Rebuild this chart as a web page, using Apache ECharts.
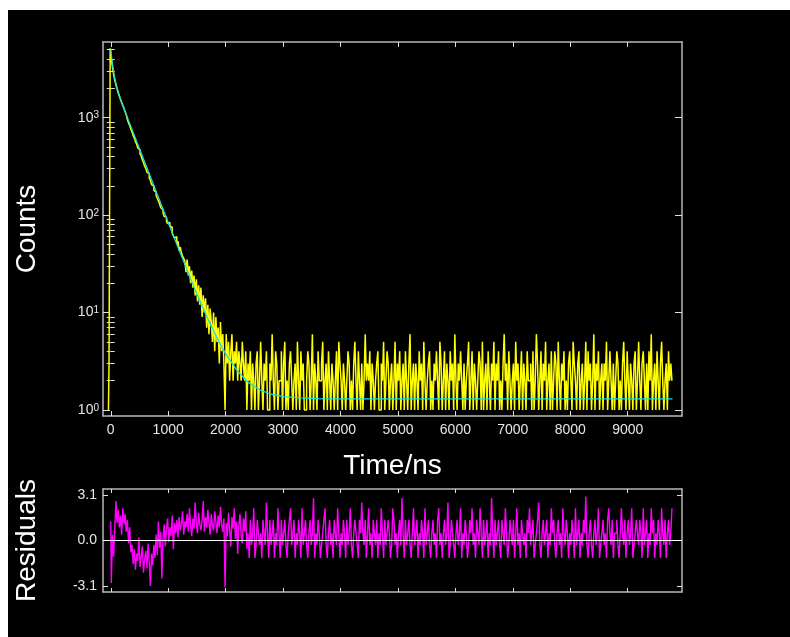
<!DOCTYPE html>
<html><head><meta charset="utf-8">
<script src="https://cdn.jsdelivr.net/npm/echarts@6/dist/echarts.min.js"></script>
<style>
html,body{margin:0;padding:0;background:#fff;}
#bg{position:absolute;left:8px;top:10px;width:782px;height:627px;background:#000;}
#c{position:absolute;left:0;top:0;width:790px;height:637px;}
</style></head><body><div id="bg"></div><div id="c"></div>
<script>
// ---- data ----
const countStart = -40, countStep = 20;   // ns, channel width
const counts = [1,3,5150,3990,3290,2790,2420,2170,1975,1790,1660,1540,1420,1340,1240,1150,1070,
955,885,830,760,716,655,620,568,538,490,468,425,405,368,348,318,302,276,265,240,228,206,199,179,172,158,
149,140,131,119,114,106,97,95,86,82,84,77,75,65,66,58,60,50,54,43,47,41,38,36,
34,26,35,24,30,20,27,18,24,15,22,13,19,12,18,
9,15,10,14,7,12,6,11,8,5,10,4,9,5,7,3,8,4,6,3,
1,6,3,5,2,4,6,2,4,3,5,2,4,3,2,5,3,2,4,1,
3,2,4,1,3,
2,1,3,4,1,2,5,2,1,3,2,4,1,1,3,2,6,2,1,4,
3,1,2,2,4,1,3,5,1,2,1,3,4,2,1,2,3,1,5,2,
1,4,2,3,1,1,2,4,3,1,2,6,1,3,2,1,4,2,2,3,
5,1,2,3,1,4,2,1,3,2,1,2,4,1,5,3,2,1,3,2,
1,2,4,3,1,2,1,3,5,2,1,4,2,1,3,1,2,6,2,3,
2,4,1,3,2,1,2,3,4,1,1,3,2,5,1,2,4,3,1,2,
3,1,2,5,1,3,2,4,1,2,3,1,4,2,1,3,6,1,2,3,
1,3,2,1,4,2,3,1,5,2,1,2,3,4,1,2,1,3,2,4,
2,1,5,3,1,2,4,1,3,2,1,4,2,3,1,6,2,1,3,2,
4,2,1,3,1,2,3,5,1,2,4,1,3,2,1,2,4,3,1,5,
1,2,3,1,4,2,1,3,2,5,1,3,2,4,1,2,1,3,6,2,
3,1,4,2,1,2,3,1,5,2,3,1,2,4,1,3,2,1,4,2,
2,3,1,4,1,2,6,3,1,2,4,1,3,2,5,1,2,3,1,4,
1,2,4,3,1,5,2,1,3,2,4,1,2,1,3,4,2,1,5,3,
2,1,3,4,1,2,3,1,2,5,1,4,2,3,1,2,6,1,3,2,
4,1,2,3,1,3,2,5,1,2,4,2,1,3,1,2,4,3,1,2,
1,3,5,2,1,4,2,1,3,2,1,3,4,1,2,5,2,1,3,4,
2,1,3,1,4,2,6,1,2,3,1,4,2,1,3,5,2,1,2,3,
1,4,2,3,2];

const fitTimes = [0,20,40,60,80,100,150,200,250,300,400,500,600,700,800,900,1000,1100,1200,1300,1400,1500,1600,1700,1800,1900,2000,2200,2400,2600,2800,3000,3300,3600,4000,9780];
const fitCounts = [5031,3935,3216,2727,2380,2122,1683,1385,1155,967,681,479,338,238.5,168.3,118.9,84.1,59.6,42.4,30.2,21.6,15.6,11.4,8.4,6.3,4.82,3.78,2.53,1.91,1.60,1.45,1.37,1.33,1.31,1.30,1.30];

const resStart = 0, resStep = 20;
const residuals = [
1.3,-2.9,0.4,-1.1,0.8,2.7,1.2,2.1,0.9,1.7,0.4,2.2,1.1,1.8,0.6,1.4,-0.2,0.9,-0.8,-0.3,
-1.6,-0.6,-2.0,-0.9,-1.4,0.2,-1.8,-1.1,-0.4,-2.2,-1.3,-0.7,-1.9,-0.2,-1.5,-3.1,-0.9,-1.7,-0.3,-1.2,
0.4,-1.0,1.3,-0.5,0.6,-2.6,0.2,1.1,-0.4,0.8,1.5,-0.1,0.9,0.3,1.7,-0.6,1.2,0.5,1.4,0.2,
1.6,0.7,1.1,2.0,0.4,1.3,0.9,1.8,0.6,2.2,1.0,0.3,1.5,0.8,2.6,1.2,0.5,1.9,1.1,0.7,
1.4,2.7,0.6,1.6,0.9,2.1,1.2,0.4,1.8,1.0,0.7,2.0,1.3,0.5,1.7,0.9,2.3,1.1,0.6,1.5,
-3.2,1.2,0.3,1.9,0.7,-0.4,1.6,0.8,2.2,0.1,1.3,-0.9,1.0,1.8,0.4,-0.2,1.5,0.6,2.0,-0.6,
0.5,-1.2,1.4,-0.3,0.5,2.2,-1.2,-0.3,1.4,0.5,-0.3,0.5,-1.2,1.4,0.5,-0.3,2.6,0.5,-1.2,1.4,
-0.3,0.5,1.4,-1.2,0.5,-0.3,2.2,0.5,-1.2,1.4,-0.3,0.5,1.4,-0.3,-1.2,0.5,1.4,2.2,-0.3,0.5,
1.4,-1.2,0.5,-0.3,1.4,0.5,-1.2,2.2,-0.3,0.5,1.4,-0.3,-1.2,0.5,1.4,-0.3,0.5,2.9,-1.2,0.5,
-0.3,1.4,0.5,-1.2,-0.3,0.5,1.4,2.2,-0.3,-1.2,0.5,1.4,-0.3,0.5,-1.2,1.4,0.5,-0.3,2.2,0.5,
-1.2,0.5,-0.3,1.4,0.5,-1.2,1.4,-0.3,0.5,2.2,-0.3,-1.2,0.5,1.4,0.5,-0.3,-1.2,1.4,0.5,2.6,
0.5,-0.3,1.4,-1.2,0.5,2.2,-0.3,0.5,-1.2,1.4,0.5,-0.3,1.4,-1.2,0.5,-0.3,2.2,0.5,-1.2,1.4,
-0.3,0.5,1.4,0.5,-1.2,-0.3,2.2,1.4,-0.3,0.5,-1.2,0.5,1.4,-0.3,2.9,0.5,-1.2,1.4,-0.3,0.5,
1.4,-0.3,-1.2,0.5,2.2,-0.3,0.5,1.4,-1.2,0.5,-0.3,1.4,0.5,-1.2,2.2,-0.3,0.5,1.4,-0.3,-1.2,
0.5,1.4,-0.3,0.5,-1.2,1.4,2.2,-0.3,0.5,-1.2,0.5,1.4,-0.3,0.5,2.6,-1.2,-0.3,1.4,0.5,-0.3,
-1.2,0.5,1.4,-0.3,0.5,2.2,-1.2,0.5,-0.3,1.4,0.5,-1.2,-0.3,1.4,0.5,2.2,-0.3,0.5,-1.2,1.4,
0.5,-0.3,2.2,0.5,-1.2,1.4,-0.3,0.5,1.4,-1.2,0.5,-0.3,2.9,0.5,-1.2,1.4,-0.3,0.5,1.4,-0.3,
-1.2,1.4,0.5,-0.3,2.2,0.5,-1.2,-0.3,1.4,0.5,-0.3,1.4,-1.2,0.5,2.2,-0.3,0.5,-1.2,1.4,0.5,
-0.3,0.5,-1.2,1.4,0.5,2.2,-0.3,0.5,1.4,-1.2,-0.3,0.5,1.4,2.6,-0.3,-1.2,0.5,1.4,-0.3,0.5,
1.4,-1.2,0.5,-0.3,2.2,0.5,1.4,-0.3,-1.2,0.5,1.4,-0.3,0.5,-1.2,2.2,0.5,-0.3,1.4,0.5,-1.2,
0.5,-0.3,1.4,0.5,-1.2,2.2,-0.3,0.5,1.4,-1.2,0.5,-0.3,1.4,0.5,3.0,-0.3,-1.2,0.5,1.4,-0.3,
-1.2,0.5,1.4,-0.3,0.5,2.2,-1.2,-0.3,0.5,1.4,-0.3,0.5,-1.2,1.4,2.2,0.5,-0.3,1.4,-1.2,0.5,
0.5,1.4,-0.3,-1.2,0.5,2.2,0.5,-0.3,1.4,-1.2,0.5,1.4,-0.3,0.5,2.2,-1.2,-0.3,0.5,1.4,0.5,
-0.3,1.4,0.5,-1.2,2.2,-0.3,0.5,1.4,-1.2,0.5,-0.3,2.2,0.5,1.4,-1.2,0.5,-0.3,1.4,0.5,-1.2,
2.2,0.5,-0.3,1.4,-1.2,0.5,1.4,-0.3,0.5,2.2];

const xTicks = [0,1000,2000,3000,4000,5000,6000,7000,8000,9000];
const yMajor = [1,10,100,1000];
const yMinor = [2,3,4,5,6,7,8,9,20,30,40,50,60,70,80,90,200,300,400,500,600,700,800,900,2000,3000,4000,5000];
const resTicks = [-3.1,0,3.1];

// ---- build ----
const L = Math.log10;
const countPts = counts.map((c,i)=>[countStart+i*countStep, L(c)]);
const fitPts = fitTimes.map((t,i)=>[t, L(fitCounts[i])]);
const resPts = residuals.map((r,i)=>[resStart+i*resStep, r]);
const majLog = yMajor.map(L), minLog = yMinor.map(L);

const FONT = 'Liberation Sans, Arial, sans-serif';
const frame = {show:true, onZero:false, lineStyle:{color:'#b8b8b8', width:1.5}};
const XMIN=-135, XMAX=9945, YMIN=-0.062, YMAX=3.777, RMIN=-3.52, RMAX=3.52;

function xAx(grid, pos, labels, tickLen){
  return {type:'value', gridIndex:grid, position:pos, min:XMIN, max:XMAX,
    axisLine:frame, splitLine:{show:false},
    axisTick:{show:true, inside:true, length:tickLen, customValues:xTicks, lineStyle:{color:'#e0e0e0', width:1}},
    axisLabel:{show:labels, customValues:xTicks, color:'#e6e6e6', fontSize:14, fontFamily:FONT, margin:7,
      formatter: v => String(Math.round(v))}};
}
function yAx(grid, pos, min, max, ticks, len, showLine){
  return {type:'value', gridIndex:grid, position:pos, min:min, max:max,
    axisLine:showLine?frame:{show:false}, splitLine:{show:false},
    axisTick:{show:true, inside:true, length:len, customValues:ticks, lineStyle:{color:'#e0e0e0', width:1}},
    axisLabel:{show:false}};
}

const yMainLeft = yAx(0,'left',YMIN,YMAX,majLog,7,true);
yMainLeft.axisLabel = {show:true, customValues:majLog, margin:4, fontFamily:FONT,
  formatter: v => '{b|10}{s|' + Math.round(v) + '}',
  rich:{b:{fontSize:14, color:'#e6e6e6', fontFamily:FONT, verticalAlign:'bottom', lineHeight:14},
        s:{fontSize:10, color:'#e6e6e6', fontFamily:FONT, verticalAlign:'top', lineHeight:10, padding:[0,0,8,0]}}};
yMainLeft.name = 'Counts'; yMainLeft.nameLocation = 'middle'; yMainLeft.nameGap = 62;
yMainLeft.nameTextStyle = {color:'#ffffff', fontSize:28, fontFamily:FONT};

const yResLeft = yAx(1,'left',RMIN,RMAX,resTicks,5,true);
yResLeft.axisLabel = {show:true, customValues:resTicks, margin:6, color:'#e6e6e6', fontSize:14, fontFamily:FONT,
  formatter: v => v.toFixed(1)};
yResLeft.name = 'Residuals'; yResLeft.nameLocation = 'middle'; yResLeft.nameGap = 62;
yResLeft.nameTextStyle = {color:'#ffffff', fontSize:28, fontFamily:FONT};

const xMainBottom = xAx(0,'bottom',true,5);
xMainBottom.name = 'Time/ns'; xMainBottom.nameLocation = 'middle'; xMainBottom.nameGap = 36;
xMainBottom.nameTextStyle = {color:'#ffffff', fontSize:28, fontFamily:FONT};

const option = {
  animation:false,
  backgroundColor:'transparent',
  grid:[{left:103, top:42, width:579, height:374},
        {left:103, top:489, width:579, height:103}],
  xAxis:[xMainBottom, xAx(0,'top',false,5), xAx(1,'bottom',false,4), xAx(1,'top',false,4)],
  yAxis:[yMainLeft,
         yAx(0,'left',YMIN,YMAX,minLog,4,false),
         yAx(0,'right',YMIN,YMAX,majLog,7,true),
         yAx(0,'right',YMIN,YMAX,minLog,4,false),
         yResLeft,
         yAx(1,'right',RMIN,RMAX,[-3.1,3.1],5,true)],
  series:[
    {type:'line', xAxisIndex:0, yAxisIndex:0, data:countPts, showSymbol:false, symbol:'none', step:'middle',
     lineStyle:{color:'#ffff00', width:1.5}, z:2, clip:true},
    {type:'line', xAxisIndex:0, yAxisIndex:0, data:fitPts, showSymbol:false, symbol:'none',
     lineStyle:{color:'#16e0e0', width:1.3}, z:3, clip:true},
    {type:'line', xAxisIndex:2, yAxisIndex:4, data:resPts, showSymbol:false, symbol:'none', step:'middle',
     lineStyle:{color:'#ff00ff', width:1.4}, z:2, clip:true,
     markLine:{silent:true, symbol:'none', label:{show:false},
       lineStyle:{color:'#ffffff', width:1, type:'solid'}, data:[{yAxis:0}]}}
  ]
};
const chart = echarts.init(document.getElementById('c'), null, {renderer:'canvas'});
chart.setOption(option);
</script>
</body></html>
